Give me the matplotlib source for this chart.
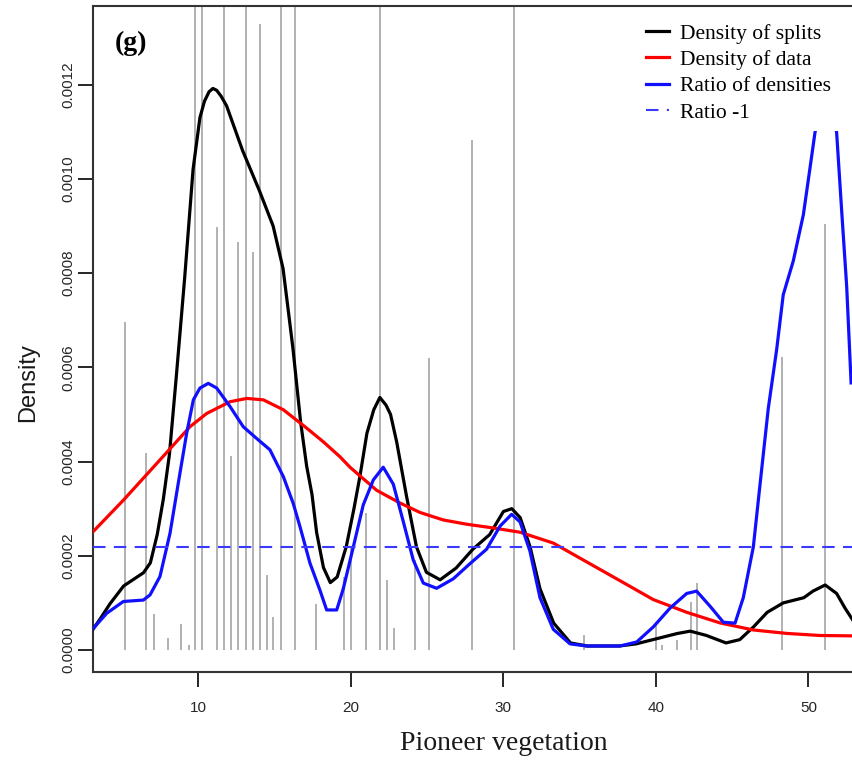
import matplotlib
matplotlib.use("Agg")
import matplotlib.pyplot as plt
from matplotlib.font_manager import FontProperties

# density curves (x = pioneer vegetation, y in 1e-4)
splits_x = [3.09, 3.6, 4.2, 5.1, 6.4, 6.85, 7.3, 7.7, 8.1, 8.55, 9.1, 9.65, 10.1, 10.4,
            10.7, 10.95, 11.2, 11.5, 11.85, 12.9, 14.0, 14.9, 15.55, 15.8, 16.2, 16.7,
            17.1, 17.45, 17.75, 18.2, 18.65, 19.1, 19.7, 20.2, 20.6, 21.05, 21.5, 21.9,
            22.3, 22.6, 23.0, 23.65, 24.3, 24.95, 25.85, 26.9, 28.0, 29.1, 30.0, 30.55,
            31.1, 31.75, 32.4, 33.3, 34.4, 35.5, 37.6, 38.7, 40.3, 41.4, 42.25, 43.3,
            44.6, 45.5, 46.4, 47.3, 48.35, 49.7, 50.3, 51.1, 51.85, 52.4, 52.9]
splits_dens = [0.44, 0.68, 0.98, 1.36, 1.64, 1.85, 2.45, 3.2, 4.15, 5.8, 7.9, 10.2, 11.3,
               11.65, 11.85, 11.92, 11.88, 11.75, 11.55, 10.6, 9.75, 9.0, 8.1, 7.45, 6.4,
               4.85, 3.9, 3.3, 2.5, 1.75, 1.43, 1.55, 2.2, 3.0, 3.7, 4.6, 5.1, 5.36, 5.2,
               5.0, 4.42, 3.26, 2.19, 1.65, 1.49, 1.74, 2.14, 2.45, 2.94, 3.0, 2.81, 2.19,
               1.3, 0.57, 0.15, 0.085, 0.085, 0.13, 0.26, 0.35, 0.40, 0.31, 0.15, 0.22,
               0.49, 0.8, 1.0, 1.11, 1.25, 1.38, 1.2, 0.89, 0.64]

data_x = [3.09, 5.08, 7.27, 9.45, 10.54, 12.07, 13.17, 14.26, 15.57, 17.1, 18.19, 19.29,
          19.94, 21.69, 23.22, 24.53, 26.06, 27.59, 29.34, 31.09, 33.27, 35.46, 37.65,
          39.83, 42.02, 44.2, 46.39, 48.58, 50.76, 52.86]
data_dens = [2.51, 3.18, 3.96, 4.74, 5.02, 5.27, 5.34, 5.31, 5.10, 4.71, 4.42, 4.10, 3.88,
             3.39, 3.12, 2.92, 2.76, 2.67, 2.59, 2.50, 2.27, 1.87, 1.47, 1.07, 0.80, 0.575,
             0.425, 0.352, 0.308, 0.30]

ratio_x = [3.11, 3.99, 5.08, 6.39, 6.83, 7.48, 8.14, 8.68, 9.23, 9.67, 10.1, 10.65, 11.2,
           12.07, 12.94, 13.82, 14.69, 15.57, 16.22, 16.66, 17.32, 17.97, 18.41, 19.07,
           19.5, 20.16, 20.81, 21.47, 22.12, 22.78, 23.44, 24.09, 24.75, 25.62, 26.71,
           27.8, 28.9, 29.78, 30.54, 31.09, 31.74, 32.4, 33.27, 34.37, 35.46, 37.65, 38.74,
           39.83, 40.93, 42.02, 42.67, 43.55, 44.42, 45.19, 45.73, 46.39, 46.83, 47.37,
           47.92, 48.35, 49.01, 49.67, 50.1, 50.43, 50.9, 51.3, 51.6, 51.86, 52.18, 52.51,
           52.8]
ratio_dens = [0.46, 0.78, 1.03, 1.06, 1.17, 1.56, 2.48, 3.54, 4.60, 5.31, 5.56, 5.66, 5.56,
              5.17, 4.74, 4.49, 4.25, 3.68, 3.11, 2.62, 1.84, 1.27, 0.85, 0.85, 1.3, 2.19,
              3.08, 3.61, 3.88, 3.52, 2.72, 1.91, 1.42, 1.31, 1.51, 1.83, 2.14, 2.63, 2.88,
              2.72, 2.10, 1.11, 0.44, 0.13, 0.085, 0.085, 0.17, 0.49, 0.89, 1.20, 1.25, 0.93,
              0.59, 0.57, 1.11, 2.19, 3.52, 5.13, 6.38, 7.54, 8.26, 9.24, 10.22, 10.98, 11.8,
              12.2, 11.9, 10.94, 9.33, 7.72, 5.67]

ratio_ref = 2.19  # "Ratio -1" level

# split positions and their bar heights (14 = runs past the top)
split_pos = [5.17, 6.58, 7.09, 7.98, 8.88, 9.38, 9.80, 10.26, 11.22, 11.68, 12.16, 12.60,
             13.10, 13.58, 14.02, 14.48, 14.91, 15.42, 16.31, 17.69, 19.58, 19.98, 21.01,
             21.9, 22.38, 22.8, 24.2, 25.12, 27.92, 30.7, 35.31, 40.0, 40.38, 41.4, 42.28,
             42.67, 48.3, 51.09]
split_height = [6.96, 4.19, 0.77, 0.26, 0.56, 0.11, 14, 14, 8.97, 14, 4.11, 8.66, 14, 8.44,
                13.29, 1.60, 0.71, 14, 14, 0.97, 1.55, 2.2, 2.9, 14, 1.49, 0.46, 1.9, 6.19,
                10.83, 14, 0.31, 0.59, 0.11, 0.22, 1.02, 1.42, 6.22, 9.04]

x_ticks = [10, 20, 30, 40, 50]
y_ticks = [0.0, 2.0, 4.0, 6.0, 8.0, 10.0, 12.0]

SCALE = 1e-4

plt.rcParams["font.family"] = ["Liberation Sans", "DejaVu Sans"]

fig = plt.figure(figsize=(8.52, 7.61), dpi=100)
W, H = 852.0, 761.0
ax = fig.add_axes([93 / W, 89 / H, 776.4 / W, 666 / H])

ax.vlines(split_pos, 0, [h * SCALE for h in split_height], color="#ababab", linewidth=1.3, zorder=1)
ax.plot(splits_x, [v * SCALE for v in splits_dens], color="black", linewidth=2.3,
        label="Density of splits", zorder=3)
ax.plot(data_x, [v * SCALE for v in data_dens], color="#ff0000", linewidth=2.3,
        label="Density of data", zorder=3)
ax.plot(ratio_x, [v * SCALE for v in ratio_dens], color="#1010ff", linewidth=2.3,
        label="Ratio of densities", zorder=4)
ax.axhline(ratio_ref * SCALE, color="#3a3aff", linewidth=1.5, linestyle=(0, (6, 4)),
           label="Ratio -1", zorder=4)

ax.set_xlim(3.089, 54.0)
ax.set_ylim(-0.0000467, 0.001367)

ax.set_xticks(x_ticks)
ax.set_xticklabels([str(t) for t in x_ticks])
ax.set_yticks([t * SCALE for t in y_ticks])
ax.set_yticklabels([f"{t * SCALE:.4f}" for t in y_ticks], rotation=90, va="center")
ax.tick_params(direction="out", length=10.8, width=1.4, labelsize=11, colors="#262626")
ax.tick_params(axis="x", pad=10.4)
ax.tick_params(axis="y", pad=2)
for spine in ax.spines.values():
    spine.set_linewidth(1.5)
    spine.set_color("#333333")

fig.text(504 / W, 11 / H, "Pioneer vegetation", ha="center", va="baseline",
         family="Liberation Serif", fontsize=20, color="#1a1a1a")
fig.text(28 / W, (H - 383) / H, "Density", ha="center", va="center", rotation=90,
         fontsize=17, color="#1a1a1a")
fig.text(115 / W, (H - 50) / H, "(g)", ha="left", va="baseline",
         family="Liberation Serif", fontsize=20, fontweight="bold", color="black")

leg = ax.legend(loc="upper left", bbox_to_anchor=(637 / W, (H - 15) / H),
                bbox_transform=fig.transFigure, frameon=True, facecolor="white",
                edgecolor="white", framealpha=1, fancybox=False, borderpad=0.4,
                borderaxespad=0, handlelength=1.1, handletextpad=0.5, labelspacing=0.29,
                prop=FontProperties(family="Liberation Serif", size=15.5))
leg.get_frame().set_linewidth(0)

fig.savefig("out.png", dpi=100)
